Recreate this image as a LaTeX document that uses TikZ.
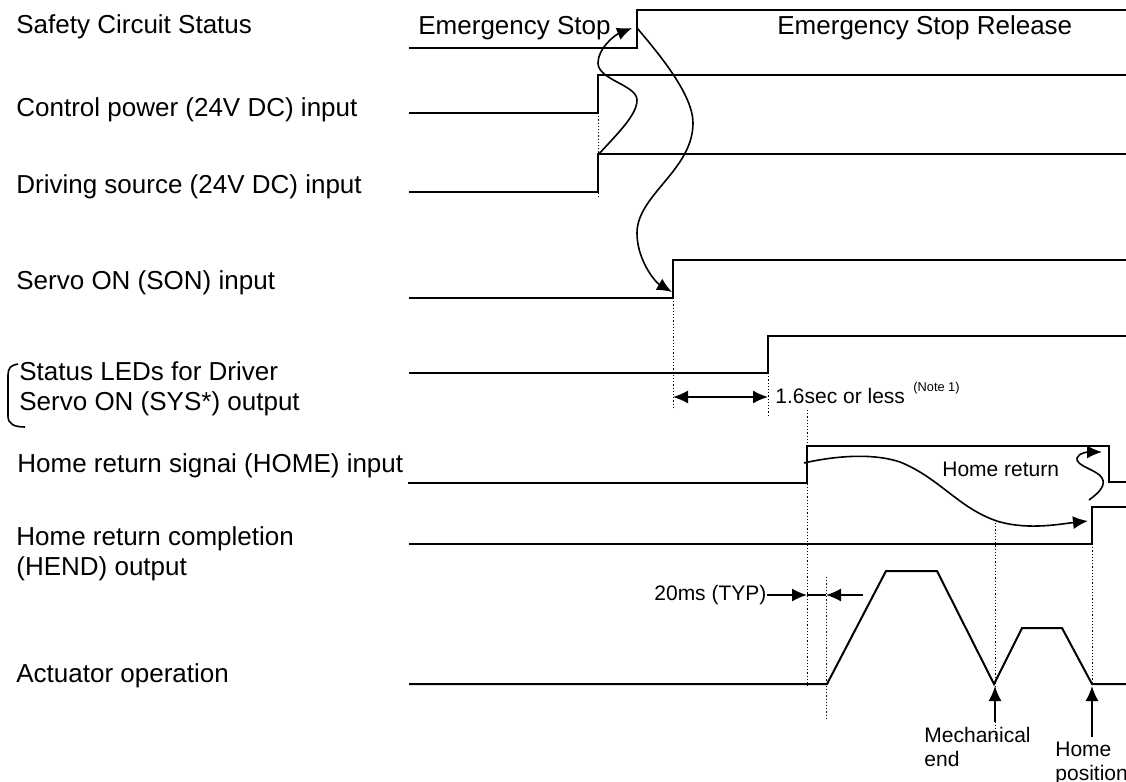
\documentclass[tikz,border=0pt]{standalone}
\usepackage{fontspec}
\setmainfont{Liberation Sans}
\usetikzlibrary{arrows.meta}

\begin{document}
\begin{tikzpicture}[x=0.5pt,y=-0.5pt,>={Latex[length=7.5pt,width=6.5pt]},
  wave/.style={line width=1pt},
  guide/.style={line width=0.5pt,dash pattern=on 0.6pt off 1pt},
  curv/.style={line width=0.8pt,->},
  lab/.style={anchor=base west,inner sep=0pt,align=left,font=\fontsize{13}{15}\selectfont},
  note/.style={anchor=base west,inner sep=0pt,align=left,font=\fontsize{10.5}{12}\selectfont}]
\useasboundingbox (0,0) rectangle (1126,782);
% signal names
\node[lab] (lsafe) at (16,33) {Safety Circuit Status};
\node[lab] (lctrl) at (16,116) {Control power (24V DC) input};
\node[lab] (ldrv) at (16,193) {Driving source (24V DC) input};
\node[lab] (lson) at (16,289) {Servo ON (SON) input};
\node[lab] (lsys) at (19,410) {Status LEDs for Driver\\Servo ON (SYS*) output};
\node[lab] (lhome) at (17,472) {Home return signai (HOME) input};
\node[lab] (lhend) at (16,575) {Home return completion\\(HEND) output};
\node[lab] (lact) at (16,682) {Actuator operation};
\draw[line width=0.8pt] (18,364) .. controls (11,365) and (8,368) .. (8,375) -- (8,416)
  .. controls (8,424) and (14,427) .. (25,427);
\node[lab] (estop) at (418,34) {Emergency Stop};
\node[lab] (esrel) at (777,34) {Emergency Stop Release};
% waveforms
\draw[wave] (409,48)--(637,48)--(637,10)--(1126,10);
\draw[wave] (409,113)--(598,113)--(598,75)--(1126,75);
\draw[wave] (409,192)--(598,192)--(598,154)--(1126,154);
\draw[wave] (409,298)--(673,298)--(673,260)--(1126,260);
\draw[wave] (409,373)--(768,373)--(768,336)--(1126,336);
\draw[wave] (408,483)--(807,483)--(807,446)--(1109,446)--(1109,482)--(1126,482);
\draw[wave] (409,544)--(1092,544)--(1092,507)--(1126,507);
\draw[wave] (409,684)--(827,684)--(886,571)--(937,571)--(994,684)--(1022,628)--(1062,628)--(1092,684)--(1126,684);
% timing guides
\foreach \x/\ya/\yb in {598/113/198, 673/298/410, 768/373/417, 807/410/688, 826/577/718, 995/523/740, 1092/544/684}
  \draw[guide] (\x,\ya)--(\x,\yb);
% event points
\coordinate (drvup) at (598,155);
\coordinate (safeup) at (632,28);
\coordinate (safetop) at (637,28);
\coordinate (sonup) at (672,292);
\coordinate (homeup) at (804,463);
\coordinate (hendup) at (1088,521);
\coordinate (sqz) at (1089,500);
\coordinate (homedn) at (1102,452);
\draw[curv] (drvup) .. controls (618,133) and (637,115) .. (637,100)
  .. controls (637,85) and (598,80) .. (598,63) .. controls (598,48) and (615,35) .. (safeup);
\draw[curv] (safetop) .. controls (660,55) and (693,95) .. (693,123)
  .. controls (693,170) and (637,195) .. (637,233) .. controls (637,260) and (655,282) .. (sonup);
\draw[curv] (homeup) .. controls (830,457) and (870,452) .. (900,462)
  .. controls (940,478) and (960,510) .. (1000,522) .. controls (1030,530) and (1060,524) .. (hendup);
\draw[curv] (sqz) .. controls (1100,492) and (1106,485) .. (1102,478)
  .. controls (1098,470) and (1075,466) .. (1077,458) .. controls (1079,452) and (1090,452) .. (homedn);
\node[note] (hret) at (942,476) {Home return};
% durations
\coordinate (s1) at (673,397); \coordinate (s2) at (768,397);
\draw[<->,line width=0.8pt] (s1) -- (s2);
\node[note] (t16) at (775,403) {1.6sec or less};
\node[anchor=base west,inner sep=0pt,font=\fontsize{6.4}{7}\selectfont] (n1) at (913,391) {(Note 1)};
\node[note] (t20) at (654,600) {20ms (TYP)};
\coordinate (m1) at (807,595); \coordinate (m2) at (826,595); \coordinate (m3) at (863,595);
\draw[->,line width=0.8pt] (t20.east |- m1) -- (m1);
\draw[line width=0.8pt] (m1) -- (m2);
\draw[->,line width=0.8pt] (m3) -- (m2);
% positions
\coordinate (me) at (995,686); \coordinate (hp) at (1092,686);
\node[note] (tme) at (924,766) {Mechanical\\end};
\node[note] (thp) at (1055,780) {Home\\position};
\draw[->,line width=0.8pt] (995,722) -- (me);
\draw[->,line width=0.8pt] (1092,737) -- (hp);
\end{tikzpicture}
\end{document}
